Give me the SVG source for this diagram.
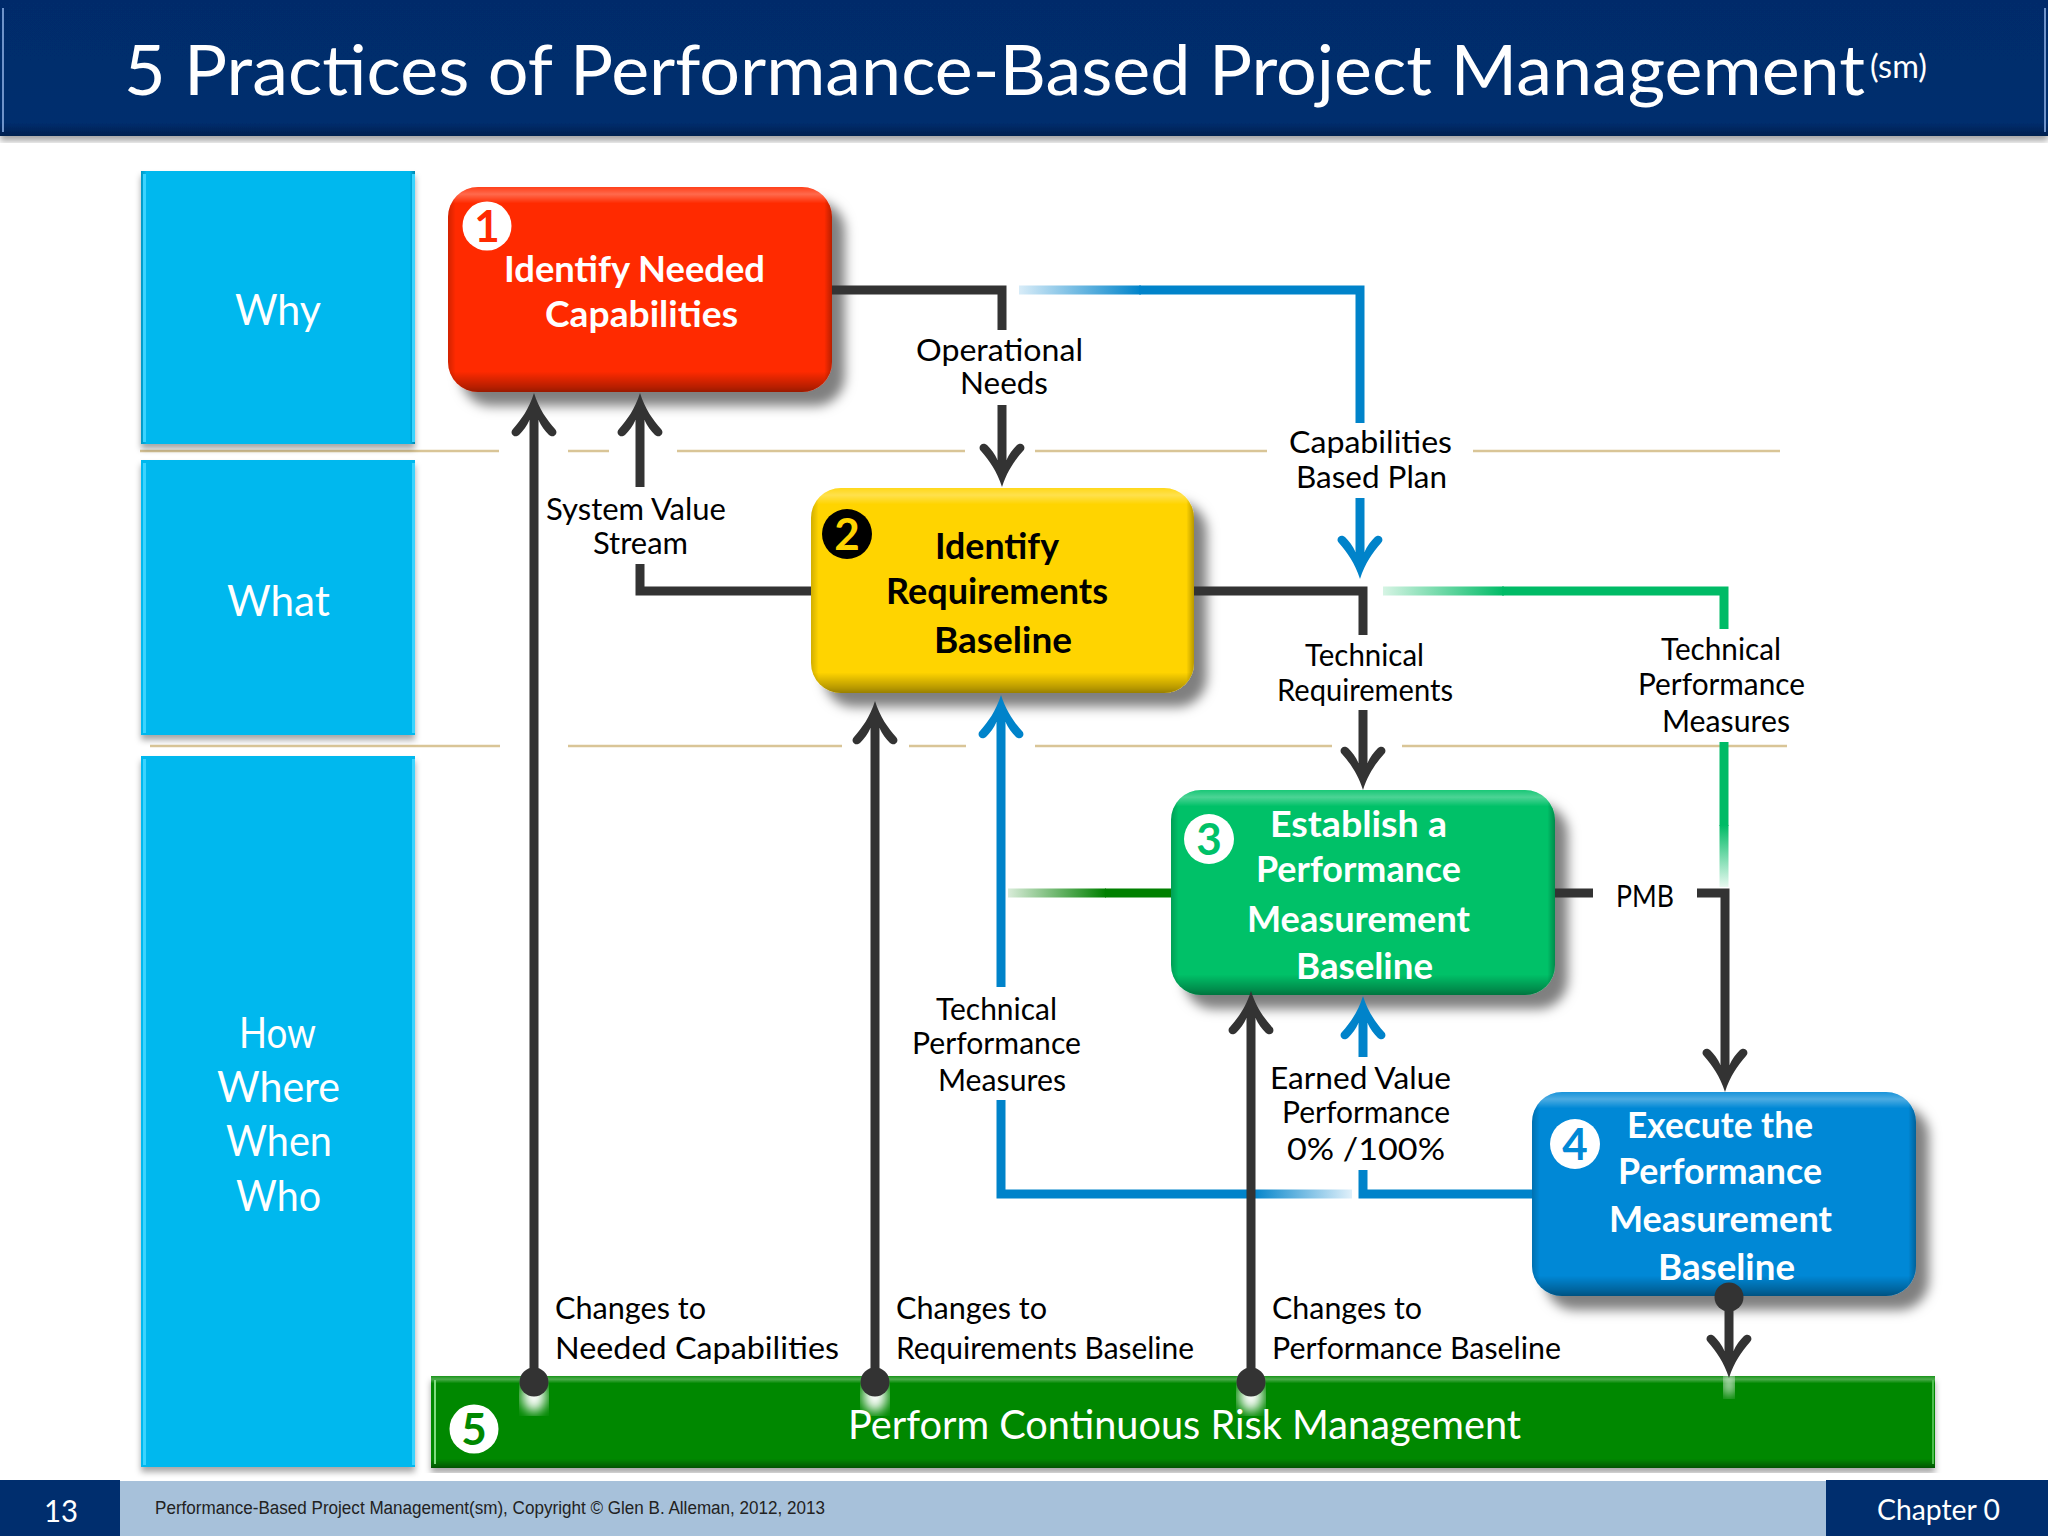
<svg xmlns="http://www.w3.org/2000/svg" xmlns:xlink="http://www.w3.org/1999/xlink" width="2048" height="1536" viewBox="0 0 2048 1536">
<style>
text{font-family:"Lato","Liberation Sans",sans-serif}
.lbl{font-size:31px;fill:#000}
.col{font-size:42px;fill:#fff;text-anchor:start}
.nw{font-size:36px;font-weight:700;fill:#fff}
.nb{font-size:36px;font-weight:700;fill:#000}
.num{font-size:44px;font-weight:700;text-anchor:middle}
.tan{stroke:#d9c597;stroke-width:2.5;fill:none}
.k{stroke:#333;stroke-width:9;fill:none}
.b{stroke:#0083ca;stroke-width:9;fill:none}
.g{stroke:#00bb66;stroke-width:9;fill:none}
</style>
<defs>
<filter id="sh" x="-10%" y="-10%" width="125%" height="130%"><feDropShadow dx="13" dy="14" stdDeviation="6" flood-color="#000" flood-opacity=".5"/></filter>
<filter id="shs" x="-5%" y="-5%" width="110%" height="110%"><feDropShadow dx="0" dy="5" stdDeviation="3" flood-color="#000" flood-opacity=".35"/></filter>
<filter id="blur"><feGaussianBlur stdDeviation="6"/></filter>
<linearGradient id="bv" x1="0" y1="0" x2="0" y2="1">
<stop offset="0" stop-color="#fff" stop-opacity=".1"/><stop offset=".035" stop-color="#fff" stop-opacity=".3"/><stop offset=".08" stop-color="#fff" stop-opacity="0"/><stop offset=".9" stop-color="#000" stop-opacity="0"/><stop offset=".975" stop-color="#000" stop-opacity=".28"/><stop offset="1" stop-color="#000" stop-opacity=".4"/>
</linearGradient>
<linearGradient id="bh" x1="0" y1="0" x2="1" y2="0">
<stop offset="0" stop-color="#000" stop-opacity=".18"/><stop offset=".02" stop-color="#000" stop-opacity="0"/><stop offset=".98" stop-color="#000" stop-opacity="0"/><stop offset="1" stop-color="#000" stop-opacity=".28"/>
</linearGradient>
<linearGradient id="hdr" x1="0" y1="0" x2="0" y2="1">
<stop offset="0" stop-color="#002c6b"/><stop offset=".9" stop-color="#002e6e"/><stop offset="1" stop-color="#00204f"/>
</linearGradient>
<linearGradient id="fb1" gradientUnits="userSpaceOnUse" x1="1019" y1="0" x2="1141" y2="0"><stop offset="0" stop-color="#d8ecf8"/><stop offset="1" stop-color="#0083ca"/></linearGradient>
<linearGradient id="fg1" gradientUnits="userSpaceOnUse" x1="1383" y1="0" x2="1504" y2="0"><stop offset="0" stop-color="#d6f4e4"/><stop offset="1" stop-color="#00bb66"/></linearGradient>
<linearGradient id="fg2" gradientUnits="userSpaceOnUse" x1="0" y1="825" x2="0" y2="887"><stop offset="0" stop-color="#00bb66"/><stop offset="1" stop-color="#e8f9f0"/></linearGradient>
<linearGradient id="fd" gradientUnits="userSpaceOnUse" x1="1008" y1="0" x2="1106" y2="0"><stop offset="0" stop-color="#d9ecd9"/><stop offset="1" stop-color="#008000"/></linearGradient>
<linearGradient id="fb2" gradientUnits="userSpaceOnUse" x1="1252" y1="0" x2="1352" y2="0"><stop offset="0" stop-color="#0083ca"/><stop offset="1" stop-color="#e0f0fa"/></linearGradient>
<path id="ah" d="M0 0C-5 16-13 27-21 36C-25 40-20 46-15 42C-11 38-7 33-4.500 27L4.500 27C7 33 11 38 15 42C20 46 25 40 21 36C13 27 5 16 0 0Z"/>
</defs>
<rect width="2048" height="1536" fill="#fff"/>

<g id="header">
<rect x="0" y="0" width="2048" height="136" fill="url(#hdr)" filter="url(#shs)"/>
<rect x="2" y="8" width="2" height="124" fill="#6f93c9"/><rect x="2044" y="8" width="2" height="124" fill="#6f93c9"/>
<text fill="#fff" font-size="70"><tspan x="124" y="95" textLength="1741" lengthAdjust="spacingAndGlyphs">5 Practices of Performance-Based Project Management</tspan><tspan x="1870" y="78" font-size="32" textLength="57" lengthAdjust="spacingAndGlyphs">(sm)</tspan></text>
</g>

<g id="guides">
<path class="tan" d="M140 451H499M568 451H609M677 451H965M1035 451H1267M1473 451H1780"/>
<path class="tan" d="M150 746H500M568 746H842M909 746H966M1035 746H1332M1402 746H1787"/>
</g>

<g id="col-why"><rect x="141" y="171" width="274" height="273" fill="#00b8ee" filter="url(#shs)"/><rect x="141" y="171" width="274" height="273" fill="url(#bh)"/><rect x="143" y="174" width="3" height="268" fill="#3bd4ff"/><rect x="412" y="174" width="3" height="268" fill="#3bd4ff"/>
<text class="col" x="235" y="325" textLength="86" lengthAdjust="spacingAndGlyphs">Why</text></g>
<g id="col-what"><rect x="141" y="460" width="274" height="275" fill="#00b8ee" filter="url(#shs)"/><rect x="143" y="463" width="3" height="270" fill="#3bd4ff"/><rect x="412" y="463" width="3" height="270" fill="#3bd4ff"/>
<text class="col" x="227" y="616" textLength="103" lengthAdjust="spacingAndGlyphs">What</text></g>
<g id="col-how"><rect x="141" y="756" width="274" height="711" fill="#00b8ee" filter="url(#shs)"/><rect x="143" y="759" width="3" height="706" fill="#3bd4ff"/><rect x="412" y="759" width="3" height="706" fill="#3bd4ff"/>
<text class="col" x="239" y="1048" textLength="77" lengthAdjust="spacingAndGlyphs">How</text>
<text class="col" x="217" y="1102" textLength="123" lengthAdjust="spacingAndGlyphs">Where</text>
<text class="col" x="226" y="1156" textLength="106" lengthAdjust="spacingAndGlyphs">When</text>
<text class="col" x="236" y="1211" textLength="85" lengthAdjust="spacingAndGlyphs">Who</text></g>

<g id="node-1">
<rect x="448" y="187" width="384" height="205" rx="30" fill="#ff2a00" filter="url(#sh)"/>
<rect x="448" y="187" width="384" height="205" rx="30" fill="url(#bv)"/><rect x="448" y="187" width="384" height="205" rx="30" fill="url(#bh)"/>
<circle cx="487" cy="226" r="24.500" fill="#fff"/><text class="num" x="487" y="242" fill="#ff2a00">1</text>
<text class="nw" x="504" y="282" textLength="261" lengthAdjust="spacingAndGlyphs">Identify Needed</text>
<text class="nw" x="545" y="327" textLength="193" lengthAdjust="spacingAndGlyphs">Capabilities</text>
</g>
<g id="node-2">
<rect x="811" y="488" width="383" height="205" rx="30" fill="#ffd400" filter="url(#sh)"/>
<rect x="811" y="488" width="383" height="205" rx="30" fill="url(#bv)"/><rect x="811" y="488" width="383" height="205" rx="30" fill="url(#bh)"/>
<circle cx="847" cy="534" r="25" fill="#000"/><text class="num" x="847" y="550" fill="#ffd400">2</text>
<text class="nb" x="935" y="559" textLength="124" lengthAdjust="spacingAndGlyphs">Identify</text>
<text class="nb" x="886" y="604" textLength="222" lengthAdjust="spacingAndGlyphs">Requirements</text>
<text class="nb" x="934" y="653" textLength="138" lengthAdjust="spacingAndGlyphs">Baseline</text>
</g>
<g id="node-3">
<rect x="1171" y="790" width="384" height="205" rx="30" fill="#00c168" filter="url(#sh)"/>
<rect x="1171" y="790" width="384" height="205" rx="30" fill="url(#bv)"/><rect x="1171" y="790" width="384" height="205" rx="30" fill="url(#bh)"/>
<circle cx="1209" cy="839" r="25" fill="#fff"/><text class="num" x="1209" y="855" fill="#00c168">3</text>
<text class="nw" x="1270" y="837" textLength="177" lengthAdjust="spacingAndGlyphs">Establish a</text>
<text class="nw" x="1256" y="882" textLength="205" lengthAdjust="spacingAndGlyphs">Performance</text>
<text class="nw" x="1247" y="932" textLength="223" lengthAdjust="spacingAndGlyphs">Measurement</text>
<text class="nw" x="1296" y="979" textLength="137" lengthAdjust="spacingAndGlyphs">Baseline</text>
</g>
<g id="node-4">
<rect x="1532" y="1092" width="384" height="204" rx="30" fill="#0088d6" filter="url(#sh)"/>
<rect x="1532" y="1092" width="384" height="204" rx="30" fill="url(#bv)"/><rect x="1532" y="1092" width="384" height="204" rx="30" fill="url(#bh)"/>
<circle cx="1575" cy="1144" r="25" fill="#fff"/><text class="num" x="1575" y="1160" fill="#0088d6">4</text>
<text class="nw" x="1627" y="1138" textLength="186" lengthAdjust="spacingAndGlyphs">Execute the</text>
<text class="nw" x="1618" y="1184" textLength="204" lengthAdjust="spacingAndGlyphs">Performance</text>
<text class="nw" x="1609" y="1232" textLength="223" lengthAdjust="spacingAndGlyphs">Measurement</text>
<text class="nw" x="1658" y="1280" textLength="137" lengthAdjust="spacingAndGlyphs">Baseline</text>
</g>
<g id="node-5">
<rect x="431" y="1376" width="1504" height="92" fill="#008800" filter="url(#shs)"/>
<rect x="431" y="1376" width="1504" height="92" fill="url(#bv)"/>
<rect x="434" y="1380" width="2" height="84" fill="#7fdc7f"/>
<rect x="1932" y="1380" width="2" height="84" fill="#4fbf4f"/>
<circle cx="474" cy="1429" r="24.500" fill="#fff"/><text class="num" x="474" y="1445" fill="#008800">5</text>
<text x="848" y="1439" font-size="40" fill="#fff" textLength="673" lengthAdjust="spacingAndGlyphs">Perform Continuous Risk Management</text>
</g>

<g id="connectors">
<ellipse cx="534" cy="1396" rx="12" ry="16" fill="#fff" filter="url(#blur)"/>
<ellipse cx="875" cy="1396" rx="12" ry="16" fill="#fff" filter="url(#blur)"/>
<ellipse cx="1251" cy="1396" rx="12" ry="16" fill="#fff" filter="url(#blur)"/>
<ellipse cx="1729" cy="1384" rx="5" ry="12" fill="#fff" filter="url(#blur)"/>
<path class="k" d="M832 290H1002V330"/>
<path class="k" d="M1002 405V465"/>
<use href="#ah" fill="#333" transform="translate(1002,487) rotate(180)"/>
<path class="b" style="stroke:url(#fb1)" d="M1019 290H1141"/>
<path class="b" d="M1139 290H1360V423M1360 498V555"/>
<use href="#ah" fill="#0083ca" transform="translate(1360,579) rotate(180)"/>
<path class="k" d="M640 487V415"/>
<use href="#ah" fill="#333" transform="translate(640,393)"/>
<path class="k" d="M640 564V591H811"/>
<path class="k" d="M534 1382V415"/>
<use href="#ah" fill="#333" transform="translate(534,393)"/>
<path class="k" d="M875 1382V723"/>
<use href="#ah" fill="#333" transform="translate(875,701)"/>
<path class="b" d="M1001 987V717"/>
<use href="#ah" fill="#0083ca" transform="translate(1001,695)"/>
<path class="k" d="M1194 591H1363V635"/>
<path class="k" d="M1363 710V768"/>
<use href="#ah" fill="#333" transform="translate(1363,790) rotate(180)"/>
<path class="g" style="stroke:url(#fg1)" d="M1383 591H1504"/>
<path class="g" d="M1502 591H1724V629"/>
<path class="g" d="M1724 742V826"/>
<path class="g" style="stroke:url(#fg2)" d="M1724 825V887"/>
<path class="k" style="stroke:url(#fd)" d="M1008 893H1106"/>
<path class="k" style="stroke:#008000" d="M1105 893H1171"/>
<path class="k" d="M1555 893H1593M1697 893H1725V1070"/>
<use href="#ah" fill="#333" transform="translate(1725,1092) rotate(180)"/>
<path class="b" d="M1001 1100V1194H1253"/>
<path class="b" style="stroke:url(#fb2)" d="M1252 1194H1352"/>
<path class="b" d="M1363 1170V1194H1532"/>
<path class="b" d="M1363 1057V1018"/>
<use href="#ah" fill="#0083ca" transform="translate(1363,996)"/>
<path class="k" d="M1251 1382V1013"/>
<use href="#ah" fill="#333" transform="translate(1251,991)"/>
<path class="k" d="M1729 1297V1356"/>
<use href="#ah" fill="#333" transform="translate(1729,1378) rotate(180)"/>
<circle cx="534" cy="1382" r="14.500" fill="#333"/>
<circle cx="875" cy="1382" r="14.500" fill="#333"/>
<circle cx="1251" cy="1382" r="14.500" fill="#333"/>
<circle cx="1729" cy="1297" r="14.500" fill="#333"/>
</g>

<g id="labels">
<text class="lbl" x="916" y="361" textLength="167" lengthAdjust="spacingAndGlyphs">Operational</text>
<text class="lbl" x="960" y="394" textLength="88" lengthAdjust="spacingAndGlyphs">Needs</text>
<text class="lbl" x="1289" y="453" textLength="163" lengthAdjust="spacingAndGlyphs">Capabilities</text>
<text class="lbl" x="1296" y="488" textLength="151" lengthAdjust="spacingAndGlyphs">Based Plan</text>
<text class="lbl" x="546" y="520" textLength="180" lengthAdjust="spacingAndGlyphs">System Value</text>
<text class="lbl" x="593" y="554" textLength="95" lengthAdjust="spacingAndGlyphs">Stream</text>
<text class="lbl" x="1305" y="666" textLength="119" lengthAdjust="spacingAndGlyphs">Technical</text>
<text class="lbl" x="1277" y="701" textLength="176" lengthAdjust="spacingAndGlyphs">Requirements</text>
<text class="lbl" x="1661" y="660" textLength="120" lengthAdjust="spacingAndGlyphs">Technical</text>
<text class="lbl" x="1638" y="695" textLength="167" lengthAdjust="spacingAndGlyphs">Performance</text>
<text class="lbl" x="1662" y="732" textLength="128" lengthAdjust="spacingAndGlyphs">Measures</text>
<text class="lbl" x="1616" y="907" textLength="58" lengthAdjust="spacingAndGlyphs">PMB</text>
<text class="lbl" x="936" y="1020" textLength="121" lengthAdjust="spacingAndGlyphs">Technical</text>
<text class="lbl" x="912" y="1054" textLength="169" lengthAdjust="spacingAndGlyphs">Performance</text>
<text class="lbl" x="938" y="1091" textLength="128" lengthAdjust="spacingAndGlyphs">Measures</text>
<text class="lbl" x="1270" y="1089" textLength="181" lengthAdjust="spacingAndGlyphs">Earned Value</text>
<text class="lbl" x="1282" y="1123" textLength="168" lengthAdjust="spacingAndGlyphs">Performance</text>
<text class="lbl" x="1287" y="1160" textLength="158" lengthAdjust="spacingAndGlyphs">0% /100%</text>
<text class="lbl" x="555" y="1319" textLength="151" lengthAdjust="spacingAndGlyphs">Changes to</text>
<text class="lbl" x="555" y="1359" textLength="284" lengthAdjust="spacingAndGlyphs">Needed Capabilities</text>
<text class="lbl" x="896" y="1319" textLength="151" lengthAdjust="spacingAndGlyphs">Changes to</text>
<text class="lbl" x="896" y="1359" textLength="298" lengthAdjust="spacingAndGlyphs">Requirements Baseline</text>
<text class="lbl" x="1272" y="1319" textLength="150" lengthAdjust="spacingAndGlyphs">Changes to</text>
<text class="lbl" x="1272" y="1359" textLength="289" lengthAdjust="spacingAndGlyphs">Performance Baseline</text>
</g>

<g id="footer">
<rect x="0" y="1481" width="2048" height="55" fill="#a7c1da"/>
<rect x="0" y="1480" width="120" height="56" fill="#002e6e"/>
<rect x="1826" y="1480" width="222" height="56" fill="#002e6e"/>
<text x="44" y="1522" font-size="31" fill="#fff" textLength="34" lengthAdjust="spacingAndGlyphs">13</text>
<text x="155" y="1514" font-size="17.600" fill="#222" style="font-family:'Liberation Sans',sans-serif" textLength="670" lengthAdjust="spacingAndGlyphs">Performance-Based Project Management(sm), Copyright © Glen B. Alleman, 2012, 2013</text>
<text x="1877" y="1520" font-size="29" fill="#fff" textLength="123" lengthAdjust="spacingAndGlyphs">Chapter 0</text>
</g>
</svg>
